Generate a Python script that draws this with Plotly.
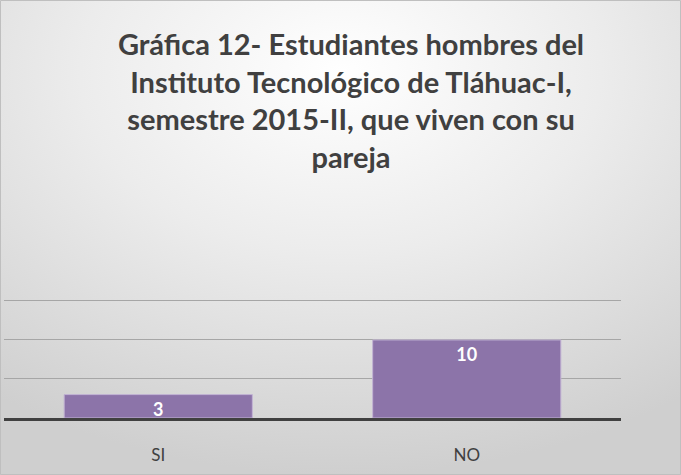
import plotly.graph_objects as go
import urllib.parse

categories = ["SI", "NO"]
values = [3, 10]
title_text = ("Gráfica 12- Estudiantes hombres del<br>Instituto Tecnológico de Tláhuac-I,"
              "<br>semestre 2015-II, que viven con su<br>pareja")

W, H = 681, 475
ML, MR, MT, MB = 4, 60, 297, 57
PW, PH = W - ML - MR, H - MT - MB

svg = ("<svg xmlns='http://www.w3.org/2000/svg' width='681' height='475' preserveAspectRatio='none'>"
       "<defs><radialGradient id='g' cx='50%' cy='15%' r='85%' fx='50%' fy='15%'>"
       "<stop offset='0' stop-color='#ffffff'/><stop offset='0.45' stop-color='#ececec'/>"
       "<stop offset='1' stop-color='#cfcfcf'/></radialGradient></defs>"
       "<rect width='681' height='475' fill='url(#g)'/></svg>")
bg_uri = "data:image/svg+xml;charset=utf-8," + urllib.parse.quote(svg)

fig = go.Figure()
fig.add_trace(go.Bar(
    x=categories, y=values,
    marker=dict(color="#8c74a9", line=dict(color="#c2b4d4", width=1)),
    text=[str(v) for v in values],
    textposition="inside", insidetextanchor="end", textangle=0,
    textfont=dict(family="Lato", size=18, color="white", weight="bold"),
    width=0.61,
))

fig.update_layout(
    width=W, height=H,
    margin=dict(l=ML, r=MR, t=MT, b=MB, pad=0),
    paper_bgcolor="#e3e3e3",
    plot_bgcolor="rgba(0,0,0,0)",
    showlegend=False,
    uniformtext=dict(minsize=18, mode="show"),
    title=dict(text=title_text, x=351 / W, xanchor="center", y=1 - 55 / H, yanchor="middle",
               yref="container",
               font=dict(family="Lato", size=29, color="#404040", weight="bold")),
    xaxis=dict(showgrid=False, showline=True, linecolor="#404040", linewidth=3,
               ticks="outside", ticklen=20, tickcolor="rgba(0,0,0,0)",
               tickfont=dict(family="Lato", size=17, color="#404040")),
    yaxis=dict(range=[0, 15.5], dtick=5, showgrid=True, gridcolor="#a6a6a6", gridwidth=1,
               showticklabels=False, zeroline=False, showline=False),
    images=[dict(source=bg_uri, xref="paper", yref="paper",
                 x=-ML / PW, y=1 + MT / PH, sizex=W / PW, sizey=H / PH,
                 xanchor="left", yanchor="top", sizing="stretch", layer="below")],
    shapes=[dict(type="rect", xref="paper", yref="paper",
                 x0=-(ML - 0.5) / PW, x1=1 + (MR - 0.5) / PW,
                 y0=-(MB - 0.5) / PH, y1=1 + (MT - 0.5) / PH,
                 line=dict(color="#bfbfbf", width=1), fillcolor="rgba(0,0,0,0)", layer="above")],
)

fig.write_html("out.html", config={"displayModeBar": False},
               post_script="document.body.style.margin='0';")
